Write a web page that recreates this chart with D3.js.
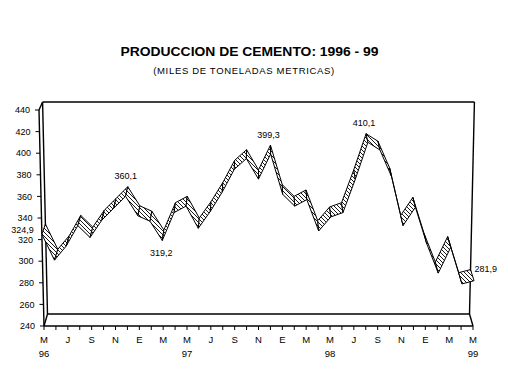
<!DOCTYPE html>
<html>
<head>
<meta charset="utf-8">
<script src="https://cdnjs.cloudflare.com/ajax/libs/d3/7.8.5/d3.min.js"></script>
<style>
body { margin: 0; background: #fff; }
text { font-family: Arial, "Liberation Sans", sans-serif; fill: #000; }
</style>
</head>
<body>
<svg id="chart" width="508" height="388"></svg>
<script>
// meses de mayo 1996 a mayo 1999
var months = ['96-05','96-06','96-07','96-08','96-09','96-10','96-11','96-12',
    '97-01','97-02','97-03','97-04','97-05','97-06','97-07','97-08','97-09','97-10','97-11','97-12',
    '98-01','98-02','98-03','98-04','98-05','98-06','98-07','98-08','98-09','98-10','98-11','98-12',
    '99-01','99-02','99-03','99-04','99-05'];
// miles de toneladas metricas
var values = [324.9, 301, 314, 333, 322, 338, 349, 360.1,
    342, 337, 319.2, 345, 351, 330.5, 346, 364, 385, 395, 376, 399.3,
    362, 351, 357, 328, 341, 345, 376, 410.1, 403, 378, 333, 350,
    316, 289, 313, 279, 281.9];
var monthTicks = ['M','J','S','N','E','M','M','J','S','N','E','M','M','J','S','N','E','M','M'];
var yearTicks = ['96','97','98','99'];
var yTicks = [240, 260, 280, 300, 320, 340, 360, 380, 400, 420, 440];
// puntos con etiqueta de valor
var labelIdx = [0, 7, 10, 19, 27, 36];

var svg = d3.select('#chart');
var last = months.length - 1;

var x = d3.scaleLinear().domain([0, last]).range([44, 473]);
var y = d3.scaleLinear().domain([240, 440]).range([326, 110]);
var h = d3.scaleLinear().domain([240, 440]).range([0, 1]);
var cx = (x(0) + x(last)) / 2;

// proyeccion 3D simple: z=0 plano frontal, z=1 pared de fondo
function proj(i, v, z) {
    var k = h(v),
        xf = cx + (x(i) - cx) * (1 + 0.0233 * k),
        yf = y(v);
    return [xf + (cx - xf) * 0.0163 * z, yf - (12 - 4 * k) * z];
}

var fmt = d3.formatLocale({decimal: ',', thousands: '.', grouping: [3], currency: ['', '']}).format('.1f');

// titulo
svg.append('text').attr('x', 249.5).attr('y', 56)
    .attr('text-anchor', 'middle').attr('font-size', 13).attr('font-weight', 'bold')
    .attr('textLength', 258).attr('lengthAdjust', 'spacingAndGlyphs')
    .text('PRODUCCION DE CEMENTO: 1996 - 99');
svg.append('text').attr('x', 243.7).attr('y', 74)
    .attr('text-anchor', 'middle').attr('font-size', 9.5)
    .attr('textLength', 181).attr('lengthAdjust', 'spacing')
    .text('(MILES DE TONELADAS METRICAS)');

// patron rayado
var pat = svg.append('defs').append('pattern')
    .attr('id', 'hatch').attr('patternUnits', 'userSpaceOnUse')
    .attr('width', 4).attr('height', 4);
pat.append('rect').attr('width', 4).attr('height', 4).attr('fill', '#fff');
pat.append('path').attr('d', 'M0,0L4,4M-1,3L1,5M3,-1L5,1')
    .attr('stroke', '#000').attr('stroke-width', 0.9);

// paredes y piso
var walls = [
    [proj(0, 440, 1), proj(last, 440, 1)],
    [proj(last, 440, 1), proj(last, 240, 1)],
    [proj(0, 440, 1), proj(0, 240, 1)],
    [proj(0, 240, 1), proj(last, 240, 1)],
    [proj(0, 440, 1), proj(0, 440, 0)],
    [proj(0, 440, 0), proj(0, 240, 0)],
    [proj(0, 240, 1), proj(0, 240, 0)],
    [proj(last, 240, 1), proj(last, 240, 0)],
    [proj(0, 240, 0), proj(last, 240, 0)]
];
var line = d3.line();
svg.append('g').selectAll('path').data(walls).enter().append('path')
    .attr('d', function(d){ return line(d); })
    .attr('fill', 'none').attr('stroke', '#000').attr('stroke-width', 1.4);

// eje Y
var gy = svg.append('g');
yTicks.forEach(function(v){
    var p = proj(0, v, 0);
    gy.append('line').attr('x1', p[0] - 4).attr('x2', p[0])
        .attr('y1', p[1]).attr('y2', p[1]).attr('stroke', '#000');
    gy.append('text').attr('x', p[0] - 9).attr('y', p[1]).attr('dy', '0.35em')
        .attr('text-anchor', 'end').attr('font-size', 9).text(v);
});

// eje X
var gx = svg.append('g');
months.forEach(function(m, i){
    var p = proj(i, 240, 0);
    gx.append('line').attr('x1', p[0]).attr('x2', p[0])
        .attr('y1', p[1]).attr('y2', p[1] + 4).attr('stroke', '#000');
    if (i % 2 === 0) {
        gx.append('text').attr('x', p[0]).attr('y', p[1] + 17)
            .attr('text-anchor', 'middle').attr('font-size', 9.5).text(monthTicks[i / 2]);
    }
    if (i % 12 === 0) {
        gx.append('text').attr('x', p[0]).attr('y', p[1] + 31)
            .attr('text-anchor', 'middle').attr('font-size', 9.5).text(yearTicks[i / 12]);
    }
});

// cinta de la serie
var segs = d3.range(last).map(function(i){
    return [proj(i, values[i], 0), proj(i + 1, values[i + 1], 0),
            proj(i + 1, values[i + 1], 1), proj(i, values[i], 1)];
});
svg.append('g').selectAll('path').data(segs).enter().append('path')
    .attr('d', function(d){ return line(d) + 'Z'; })
    .attr('fill', 'url(#hatch)').attr('stroke', '#000')
    .attr('stroke-width', 1).attr('stroke-linejoin', 'round');

// etiquetas de valores
var gl = svg.append('g').attr('font-size', 9);
labelIdx.forEach(function(i){
    var v = values[i],
        f = proj(i, v, 0),
        b = proj(i, v, 1),
        t = gl.append('text').text(fmt(v));
    if (i === 0) {
        t.attr('x', f[0] - 8).attr('y', f[1] - 1.5).attr('text-anchor', 'end');
    } else if (i === last) {
        t.attr('x', b[0] + 4).attr('y', b[1] + 2).attr('text-anchor', 'start');
    } else if (v > values[i - 1] && v > values[i + 1]) {
        t.attr('x', b[0] - 2).attr('y', b[1] - 7.5).attr('text-anchor', 'middle');
    } else {
        t.attr('x', f[0] - 1).attr('y', f[1] + 16).attr('text-anchor', 'middle');
    }
});
</script>
</body>
</html>
